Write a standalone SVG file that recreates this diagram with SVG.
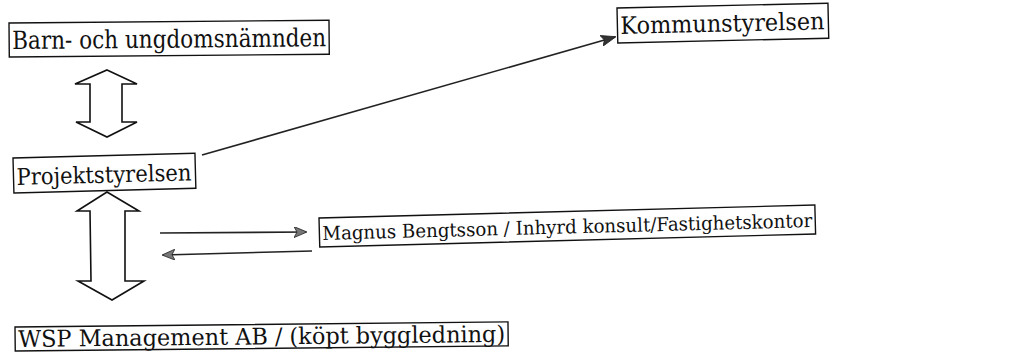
<svg xmlns="http://www.w3.org/2000/svg" width="1018" height="353" viewBox="0 0 1018 353">
  <style>
    .box { fill: #fff; stroke: #111; stroke-width: 1.4; }
    .lbl { font-family: "DejaVu Serif", "Liberation Serif", serif; fill: #111; }
    .block { fill: #fff; stroke: #111; stroke-width: 1.6; stroke-linejoin: miter; }
    .wire { fill: none; stroke: #222; stroke-width: 1.6; }
  </style>
  <defs>
    <marker id="headGrey" viewBox="0 0 13 11" refX="12" refY="5.5" markerWidth="13" markerHeight="11" markerUnits="userSpaceOnUse" orient="auto">
      <path d="M0,0 L13,5.5 L0,11 L3,5.5 Z" fill="#777" stroke="#222" stroke-width="0.8"/>
    </marker>
    <marker id="headDark" viewBox="0 0 15 11" refX="14" refY="5.5" markerWidth="15" markerHeight="11" markerUnits="userSpaceOnUse" orient="auto">
      <path d="M0,0 L15,5.5 L0,11 L3,5.5 Z" fill="#333" stroke="#222" stroke-width="0.8"/>
    </marker>
  </defs>

  <rect width="1018" height="353" fill="#fff"/>

  <!-- connectors -->
  <g id="connectors">
    <!-- double block arrow: Barn- och ungdomsnämnden / Projektstyrelsen -->
    <polygon class="block" points="107,70 137,84 122,84 122,122 137,122 107,137 76,122 90,122 90,84 75,84"/>
    <!-- double block arrow: Projektstyrelsen / WSP -->
    <polygon class="block" points="107,192 139,211 125,211 125,281 144,281 112,300 78,281 91,281 90,211 77,211"/>
    <!-- Projektstyrelsen to Kommunstyrelsen -->
    <line class="wire" x1="202" y1="155" x2="615" y2="37" marker-end="url(#headDark)"/>
    <!-- to and from the consultant -->
    <line class="wire" x1="160" y1="233" x2="306" y2="232" marker-end="url(#headGrey)"/>
    <line class="wire" x1="312" y1="251" x2="163" y2="255" marker-end="url(#headGrey)"/>
  </g>

  <g id="barn-och-ungdomsnamnden" transform="rotate(-0.5 9 23)">
    <rect class="box" x="9" y="23" width="320" height="34"/>
    <text class="lbl" x="12" y="49" font-size="25" textLength="314" lengthAdjust="spacingAndGlyphs">Barn- och ungdomsnämnden</text>
  </g>

  <g id="projektstyrelsen" transform="rotate(-1.5 13 158)">
    <rect class="box" x="13" y="158" width="182" height="35"/>
    <text class="lbl" x="16" y="185" font-size="23" textLength="175" lengthAdjust="spacingAndGlyphs">Projektstyrelsen</text>
  </g>

  <g id="kommunstyrelsen" transform="rotate(-1.3 617 8)">
    <rect class="box" x="617" y="8" width="211" height="35"/>
    <text class="lbl" x="620" y="34" font-size="24" textLength="204" lengthAdjust="spacingAndGlyphs">Kommunstyrelsen</text>
  </g>

  <g id="konsult" transform="rotate(-1.5 319 218)">
    <rect class="box" x="319" y="218" width="496" height="29"/>
    <text class="lbl" x="322" y="240" font-size="19" textLength="490" lengthAdjust="spacingAndGlyphs">Magnus Bengtsson / Inhyrd konsult/Fastighetskontor</text>
  </g>

  <g id="wsp" transform="rotate(-0.6 15 327)">
    <rect class="box" x="15" y="327" width="493" height="24"/>
    <text class="lbl" x="18" y="347" font-size="23" textLength="487" lengthAdjust="spacingAndGlyphs">WSP Management AB / (köpt byggledning)</text>
  </g>
</svg>
